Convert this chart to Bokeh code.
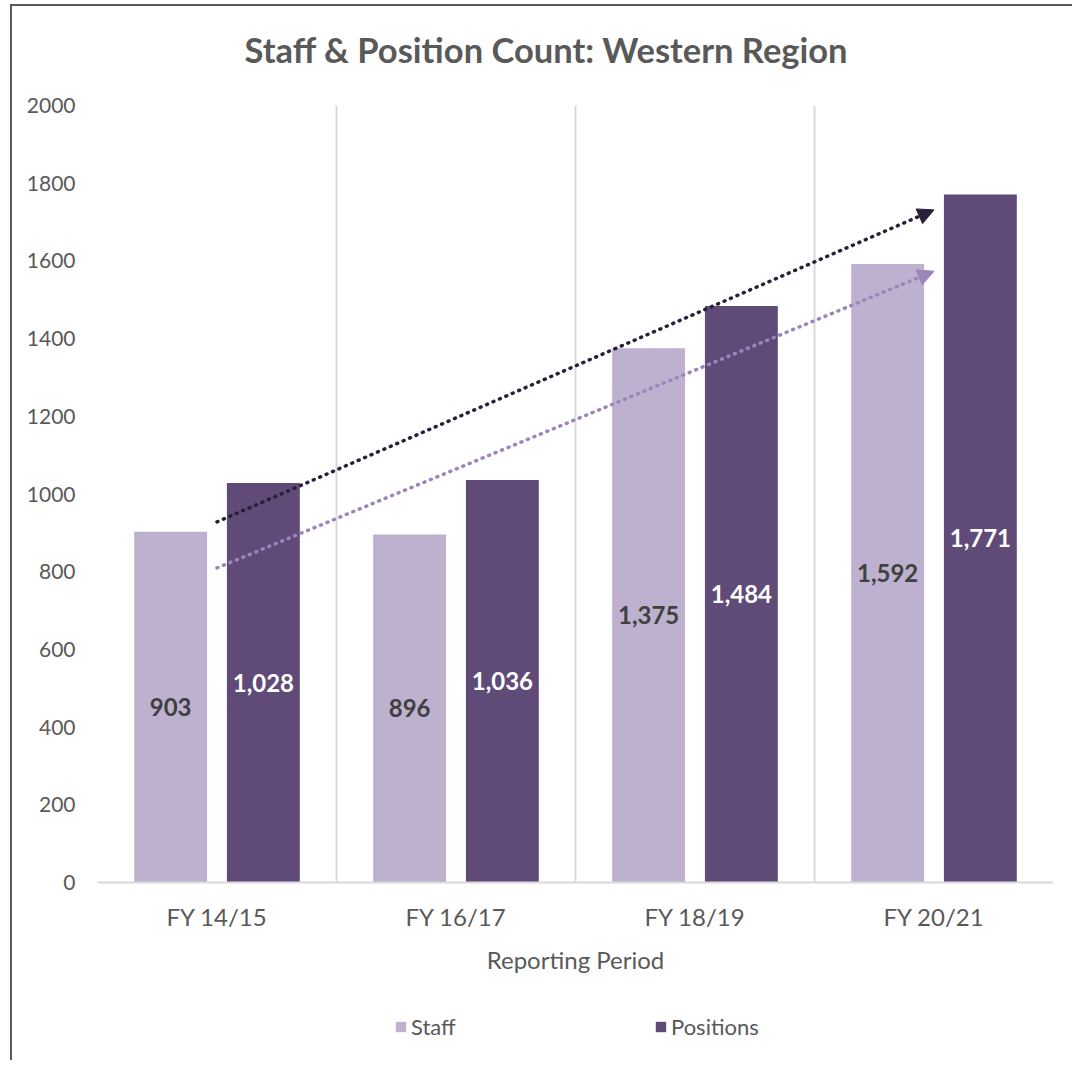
from bokeh.plotting import figure
from bokeh.layouts import column
from bokeh.models import (ColumnDataSource, FixedTicker, Range1d, Title, Arrow,
                          NormalHead, Legend, LegendItem)
from bokeh.core.properties import value
from bokeh.embed import file_html
from bokeh.resources import INLINE
import numpy as np

categories = ["FY 14/15", "FY 16/17", "FY 18/19", "FY 20/21"]
staff = [903, 896, 1375, 1592]
positions = [1028, 1036, 1484, 1771]
y_ticks = [0, 200, 400, 600, 800, 1000, 1200, 1400, 1600, 1800, 2000]
series_names = ["Staff", "Positions"]
chart_title = "Staff & Position Count: Western Region"

STAFF_C = "#BEB0CF"
POS_C = "#604A78"
TXT = "#595959"
FONT = "Lato"

n = len(categories)
centers = [i + 0.5 for i in range(n)]
off = 0.194
bw = 0.305

# title strip
tf = figure(width=1060, height=86, output_backend="svg", toolbar_location=None,
            x_range=Range1d(0, 1), y_range=Range1d(0, 1),
            min_border_left=0, min_border_right=0, min_border_top=0, min_border_bottom=0)
tf.axis.visible = False
tf.grid.visible = False
tf.outline_line_color = None
tf.add_layout(Title(text=chart_title, align="left", offset=147, standoff=40,
                    text_font=FONT, text_font_style="bold", text_font_size="34.5px",
                    text_color=TXT), "above")

p = figure(width=1060, height=890, output_backend="svg", toolbar_location=None,
           x_range=Range1d(0, n), y_range=Range1d(0, 2000),
           min_border_left=85, min_border_right=19, min_border_top=13,
           min_border_bottom=100, title=None)
p.outline_line_color = None
p.background_fill_color = "white"

src = ColumnDataSource(dict(
    xs=[c - off for c in centers], xp=[c + off for c in centers],
    staff=staff, pos=positions,
    ys=[v / 2 for v in staff], yp=[v / 2 for v in positions],
    ls=[f"{v:,}" for v in staff], lp=[f"{v:,}" for v in positions],
))

p.vbar(x="xs", top="staff", width=bw, source=src, fill_color=STAFF_C, line_color=None)
p.vbar(x="xp", top="pos", width=bw, source=src, fill_color=POS_C, line_color=None)

p.text(x="xs", y="ys", text="ls", source=src, text_align="center", text_baseline="middle",
       text_font=value(FONT), text_font_style="bold", text_font_size="24px", text_color="#404040")
p.text(x="xp", y="yp", text="lp", source=src, text_align="center", text_baseline="middle",
       text_font=value(FONT), text_font_style="bold", text_font_size="24px", text_color="white")

# linear trendlines
xi = np.arange(1, n + 1)
def trend(vals):
    a, b = np.polyfit(xi, np.array(vals, dtype=float), 1)
    return a * 1 + b, a * n + b

for vals, col in ((positions, "#2A1F38"), (staff, "#9C85BC")):
    y0, y1 = trend(vals)
    p.add_layout(Arrow(x_start=centers[0], y_start=y0, x_end=centers[-1], y_end=y1,
                       line_color=col, line_width=3.5, line_dash="1 6", line_cap="round",
                       end=NormalHead(size=16, fill_color=col, line_color=col)))

# axes
p.yaxis.ticker = FixedTicker(ticks=y_ticks)
p.yaxis.axis_line_color = None
p.yaxis.major_tick_line_color = None
p.yaxis.minor_tick_line_color = None
p.yaxis.major_label_standoff = 16
p.yaxis.major_label_text_font = FONT
p.yaxis.major_label_text_font_size = "21px"
p.yaxis.major_label_text_color = TXT

p.xaxis.ticker = FixedTicker(ticks=centers)
p.xaxis.major_label_overrides = {c: lab for c, lab in zip(centers, categories)}
p.xaxis.axis_line_color = "#D9D9D9"
p.xaxis.axis_line_width = 2
p.xaxis.major_tick_line_color = None
p.xaxis.minor_tick_line_color = None
p.xaxis.major_label_standoff = 13
p.xaxis.major_label_text_font = FONT
p.xaxis.major_label_text_font_size = "24px"
p.xaxis.major_label_text_color = TXT
p.xaxis.axis_label = "Reporting Period"
p.xaxis.axis_label_text_font = FONT
p.xaxis.axis_label_text_font_size = "24px"
p.xaxis.axis_label_text_font_style = "normal"
p.xaxis.axis_label_text_color = TXT
p.xaxis.axis_label_standoff = 11

p.ygrid.grid_line_color = None
p.xgrid.ticker = FixedTicker(ticks=list(range(n + 1)))
p.xgrid.grid_line_color = "#D9D9D9"
p.xgrid.grid_line_width = 2

# legend strip
lg = figure(width=1060, height=78, output_backend="svg", toolbar_location=None,
            x_range=Range1d(0, 1), y_range=Range1d(0, 1),
            min_border_left=0, min_border_right=0, min_border_top=0, min_border_bottom=0)
lg.axis.visible = False
lg.grid.visible = False
lg.outline_line_color = None
for name, col, lx in ((series_names[0], STAFF_C, 297), (series_names[1], POS_C, 557)):
    r = lg.vbar(x=[-1], top=[0], width=0.1, fill_color=col, line_color=None)
    leg = Legend(items=[LegendItem(label=name, renderers=[r])], location=(lx, 20),
                 orientation="horizontal", glyph_width=13, glyph_height=13,
                 label_standoff=4, padding=0, margin=0, border_line_color=None,
                 background_fill_alpha=0, label_text_font=FONT,
                 label_text_font_size="22px", label_text_color=TXT)
    lg.add_layout(leg, "center")

layout = column(tf, p, lg, spacing=0,
                styles={"border-left": "2px solid #5a5a5a", "border-top": "2px solid #5a5a5a",
                        "margin-left": "10px", "margin-top": "4px"})

open("out.html", "w").write(file_html(layout, INLINE))
